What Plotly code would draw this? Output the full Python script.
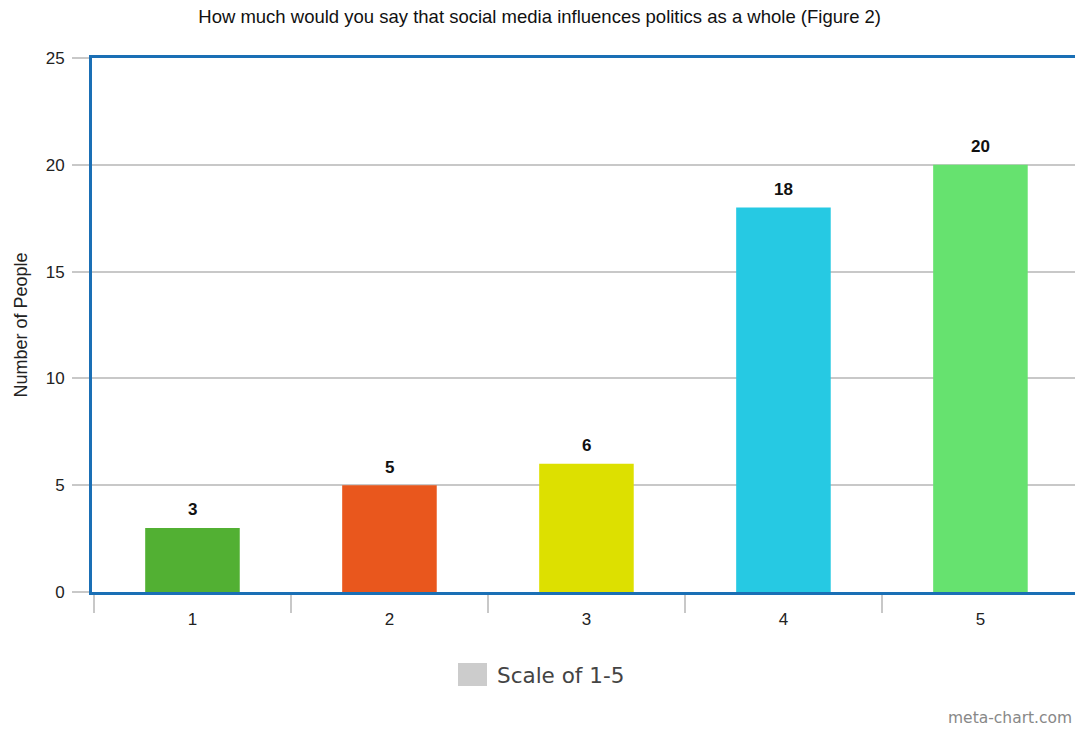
import plotly.graph_objects as go

# Survey responses: rating of social media's influence on politics (1-5)
ratings = ["1", "2", "3", "4", "5"]
people = [3, 5, 6, 18, 20]
bar_colors = ["#52b033", "#e9571d", "#dde000", "#26c9e3", "#66e26f"]
y_ticks = [0, 5, 10, 15, 20, 25]

frame_blue = "#1a6fb5"
grid_grey = "#c8c8c8"
font_family = "Liberation Sans, Arial, sans-serif"

fig = go.Figure()
fig.add_trace(go.Bar(
    x=ratings,
    y=people,
    marker=dict(color=bar_colors, line=dict(width=0)),
    width=0.48,
    showlegend=False,
    hoverinfo="x+y",
))

# Value labels above each bar (category axis positions are indices)
for i, v in enumerate(people):
    fig.add_annotation(x=i, y=v, xref="x", yref="y", text=f"<b>{v}</b>",
                       showarrow=False, yanchor="middle", yshift=18,
                       font=dict(family=font_family, size=17, color="#111"))

fig.update_layout(
    width=1075,
    height=730,
    margin=dict(l=92, r=0, t=58, b=138),
    paper_bgcolor="white",
    plot_bgcolor="white",
    font=dict(family=font_family, color="#222"),
    title=dict(
        text="How much would you say that social media influences politics as a whole (Figure 2)",
        x=0.502, xanchor="center", y=0.977, yanchor="middle",
        font=dict(family=font_family, size=18.5, color="#111"),
    ),
    xaxis=dict(
        type="category",
        range=[-0.51, 4.48],
        showline=True, linecolor=frame_blue, linewidth=3, mirror=True,
        showgrid=False,
        ticks="outside", tickson="boundaries", ticklen=18,
        tickcolor=grid_grey, tickwidth=1.5,
        ticklabelstandoff=10,
        tickfont=dict(family=font_family, size=17, color="#222"),
    ),
    yaxis=dict(
        range=[0, 25],
        tickvals=y_ticks,
        showline=True, linecolor=frame_blue, linewidth=3,
        showgrid=True, gridcolor=grid_grey, gridwidth=1.5,
        zeroline=False,
        ticks="outside", ticklen=17, tickcolor=grid_grey, tickwidth=1.5,
        ticklabelstandoff=4,
        tickfont=dict(family=font_family, size=17, color="#222"),
        title=dict(text="Number of People", standoff=14,
                   font=dict(family=font_family, size=18, color="#222")),
    ),
)

# Legend swatch and label
fig.add_shape(type="rect", xref="paper", yref="paper",
              x0=(458 - 92) / 983, x1=(487 - 92) / 983,
              y0=-(686 - 592) / 534, y1=-(663 - 592) / 534,
              fillcolor="#cccccc", line=dict(width=0))
fig.add_annotation(text="Scale of 1-5", xref="paper", yref="paper",
                   x=(495 - 92) / 983, y=-(675 - 592) / 534,
                   xanchor="left", yanchor="middle", showarrow=False,
                   font=dict(family="DejaVu Sans, sans-serif", size=21.5, color="#444"))

# Watermark
fig.add_annotation(text="meta-chart.com", xref="paper", yref="paper",
                   x=(1074 - 92) / 983, y=-(718 - 592) / 534,
                   xanchor="right", yanchor="middle", showarrow=False,
                   font=dict(family="DejaVu Sans, sans-serif", size=15.5, color="#888"))

fig.write_html("out.html")
